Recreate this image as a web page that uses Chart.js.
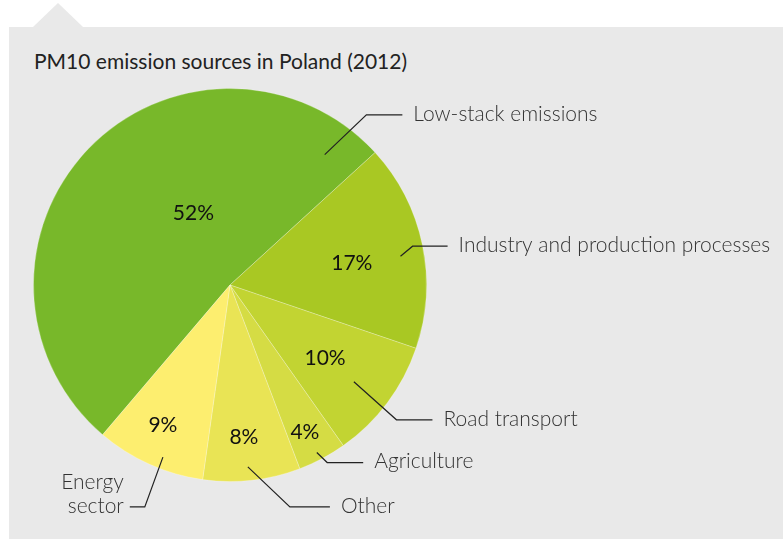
<!DOCTYPE html>
<html>
<head>
<meta charset="utf-8">
<script src="https://cdn.jsdelivr.net/npm/chart.js@4"></script>
<style>
  html, body { margin: 0; padding: 0; background: #fff; }
  #wrap { position: relative; width: 783px; height: 539px; overflow: hidden; }
  #panel { position: absolute; left: 9px; top: 27px; right: 0; bottom: 0; background: #e9e9e9; }
  #notch { position: absolute; left: 33px; top: 3px; width: 0; height: 0;
           border-left: 25px solid transparent; border-right: 25px solid transparent;
           border-bottom: 24px solid #e9e9e9; }
  #title { position: absolute; left: 34px; top: 48px; font: 400 21px Lato, sans-serif; color: #222; }
  canvas { position: absolute; left: 0; top: 0; }
</style>
</head>
<body>
<div id="wrap">
  <div id="notch"></div>
  <div id="panel"></div>
  <div id="title">PM10 emission sources in Poland (2012)</div>
  <canvas id="myChart" width="783" height="539"></canvas>
</div>
<script>
// data
const sources = ['Low-stack emissions', 'Industry and production processes', 'Road transport', 'Agriculture', 'Other', 'Energy sector'];
const shares = [52, 17, 10, 4, 8, 9];
const sliceColors = ['#78b82a', '#a9c823', '#c2d432', '#d5dc44', '#e9e455', '#fdee6f'];

// callout layout per slice: label angle shift, label radius, line start, elbow, horizontal run
const callouts = [
  {lblShift: 19, lblR: 0.41, startA: -54, startR: 0.82, elbowA: -51.3, elbowR: 1.11, run: 36, lines: ['Low-stack emissions']},
  {lblShift: 1.5, lblR: 0.63, startA: -9.6, startR: 0.88, elbowA: -12, elbowR: 0.95, run: 35, lines: ['Industry and production processes']},
  {lblShift: 0.7, lblR: 0.61, startA: 38, startR: 0.80, elbowA: 39, elbowR: 1.09, run: 36, lines: ['Road transport']},
  {lblShift: 1, lblR: 0.84, startA: 62.6, startR: 0.96, elbowA: 61.3, elbowR: 1.03, run: 36, lines: ['Agriculture']},
  {lblShift: 1.2, lblR: 0.78, startA: 84.4, startR: 0.93, elbowA: 74.9, elbowR: 1.17, run: 40, lines: ['Other']},
  {lblShift: 1.4, lblR: 0.79, startA: 111.3, startR: 0.94, elbowA: 111, elbowR: 1.21, run: -15, lines: ['Energy', 'sector']}
];

const deg = Math.PI / 180;

const calloutPlugin = {
  id: 'callouts',
  afterDatasetsDraw(chart) {
    const c = chart.ctx;
    const arcs = chart.getDatasetMeta(0).data;
    arcs.forEach((arc, i) => {
      const p = arc.getProps(['x', 'y', 'startAngle', 'endAngle', 'outerRadius'], true);
      const R = p.outerRadius;
      const cfg = callouts[i];
      const mid = (p.startAngle + p.endAngle) / 2 + cfg.lblShift * deg;
      // percentage
      c.save();
      c.fillStyle = '#111';
      c.font = '400 21px Lato, sans-serif';
      c.textAlign = 'center';
      c.textBaseline = 'middle';
      c.fillText(shares[i] + '%', p.x + Math.cos(mid) * R * cfg.lblR, p.y + Math.sin(mid) * R * cfg.lblR);
      // leader line
      const sx = p.x + Math.cos(cfg.startA * deg) * R * cfg.startR;
      const sy = p.y + Math.sin(cfg.startA * deg) * R * cfg.startR;
      const ex = p.x + Math.cos(cfg.elbowA * deg) * R * cfg.elbowR;
      const ey = p.y + Math.sin(cfg.elbowA * deg) * R * cfg.elbowR;
      const hx = ex + cfg.run;
      c.strokeStyle = '#222';
      c.lineWidth = 1.2;
      c.beginPath();
      c.moveTo(sx, sy);
      c.lineTo(ex, ey);
      c.lineTo(hx, ey);
      c.stroke();
      // name
      c.fillStyle = '#333';
      c.font = '300 21px Lato, sans-serif';
      c.textBaseline = 'middle';
      if (cfg.run >= 0) {
        c.textAlign = 'left';
        c.fillText(cfg.lines[0], hx + 11, ey - 1);
      } else {
        c.textAlign = 'right';
        const n = cfg.lines.length;
        cfg.lines.forEach((t, k) => {
          c.fillText(t, hx - 6, ey - 1 - (n - 1 - k) * 24);
        });
      }
      c.restore();
    });
  }
};

const ctx = document.getElementById('myChart').getContext('2d');
const myChart = new Chart(ctx, {
    type: 'pie',
    data: {
        labels: sources,
        datasets: [{
            data: shares,
            backgroundColor: sliceColors,
            borderColor: 'rgba(255,255,255,0.25)',
            borderWidth: 1
        }]
    },
    options: {
        responsive: false,
        animation: false,
        rotation: 220.4,
        layout: {
            padding: {left: 33, top: 88, right: 356, bottom: 57}
        },
        plugins: {
            legend: {display: false},
            tooltip: {enabled: false}
        }
    },
    plugins: [calloutPlugin]
});
</script>
</body>
</html>
